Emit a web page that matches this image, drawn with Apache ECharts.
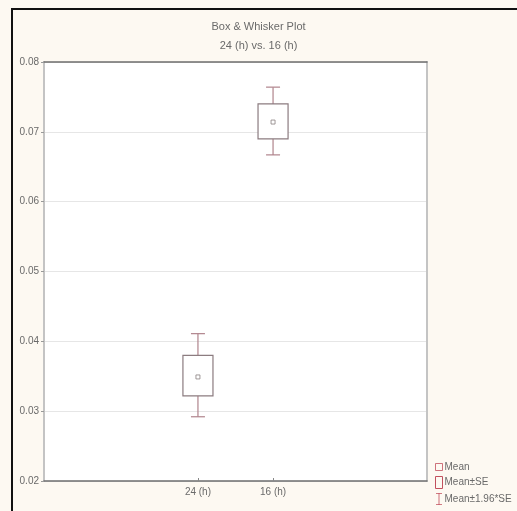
<!DOCTYPE html>
<html>
<head>
<meta charset="utf-8">
<script src="https://cdn.jsdelivr.net/npm/echarts@6/dist/echarts.min.js"></script>
<style>
  html, body { margin: 0; padding: 0; background: #fdf9f2; }
  #chart { width: 517px; height: 511px; }
</style>
</head>
<body>
<div id="chart"></div>
<script>
// Groups and their summary statistics
const categories = ['24 (h)', '16 (h)'];
const means = [0.0349, 0.0714];
const seLow = [0.0322, 0.0690];
const seHigh = [0.0380, 0.0740];
const ciLow = [0.0292, 0.0667];
const ciHigh = [0.0411, 0.0764];
const yTicks = [0.02, 0.03, 0.04, 0.05, 0.06, 0.07, 0.08];

const FONT = "'Liberation Sans Narrow', 'Arial Narrow', 'Liberation Sans', sans-serif";
const TEXT = '#6a6a6a';
const BOX = '#8c7c80';
const WHISK = '#b0848c';
const LEG = '#c2505e';

const chart = echarts.init(document.getElementById('chart'), null, { renderer: 'canvas' });

const positions = categories.map((_, i) => i);

const option = {
  backgroundColor: '#fdf9f2',
  animation: false,
  textStyle: { fontFamily: FONT },
  title: {
    text: 'Box & Whisker Plot',
    subtext: '24 (h) vs. 16 (h)',
    left: 'center',
    top: 16,
    itemGap: 8,
    textStyle: { fontFamily: FONT, fontSize: 11, fontWeight: 'normal', color: TEXT },
    subtextStyle: { fontFamily: FONT, fontSize: 11, color: TEXT }
  },
  graphic: [
    {
      type: 'polyline',
      shape: { points: [[12, 520], [12, 9], [520, 9]] },
      style: { stroke: '#111', lineWidth: 2, fill: null },
      silent: true
    }
  ],
  grid: { left: 44, right: 90, top: 62, bottom: 30, show: true, backgroundColor: '#ffffff', borderWidth: 0 },
  legend: {
    orient: 'vertical',
    left: 430,
    top: 457,
    itemGap: 4,
    itemWidth: 7,
    itemHeight: 12,
    textStyle: { fontFamily: FONT, fontSize: 10, color: TEXT, padding: [0, 0, 0, -3] },
    data: [
      { name: 'Mean', icon: 'path://M2,4 L5,4 L5,7 L2,7 Z', itemStyle: { color: 'transparent', borderColor: LEG, borderWidth: 1 } },
      { name: 'Mean±SE', icon: 'rect', itemStyle: { color: 'transparent', borderColor: LEG, borderWidth: 1 } },
      { name: 'Mean±1.96*SE', icon: 'path://M0,0 L6,0 L6,0.8 L3.4,0.8 L3.4,11.2 L6,11.2 L6,12 L0,12 L0,11.2 L2.6,11.2 L2.6,0.8 L0,0.8 Z', itemStyle: { color: LEG, borderWidth: 0 } }
    ]
  },
  xAxis: [
    {
      type: 'value',
      min: -2.05,
      max: 3.05,
      position: 'bottom',
      splitLine: { show: false },
      axisLine: { show: true, onZero: false, lineStyle: { color: '#6e6e6e', width: 1.5 } },
      axisTick: { show: true, inside: true, length: 3, customValues: positions, lineStyle: { color: '#888' } },
      axisLabel: {
        customValues: positions,
        formatter: v => categories[Math.round(v)],
        color: TEXT, fontSize: 10, fontFamily: FONT, margin: 6
      }
    },
    {
      type: 'value',
      min: -2.05,
      max: 3.05,
      position: 'top',
      splitLine: { show: false },
      axisLine: { show: true, onZero: false, lineStyle: { color: '#6e6e6e', width: 1.5 } },
      axisTick: { show: false },
      axisLabel: { show: false }
    }
  ],
  yAxis: [
    {
      type: 'value',
      min: 0.02,
      max: 0.08,
      interval: 0.01,
      position: 'left',
      axisLine: { show: true, onZero: false, lineStyle: { color: '#c4c4c4', width: 2 } },
      axisTick: { show: true, length: 3, lineStyle: { color: '#999' } },
      splitLine: { show: true, lineStyle: { color: '#e6e6e6', width: 1 } },
      axisLabel: {
        customValues: yTicks,
        formatter: v => v.toFixed(2),
        color: TEXT, fontSize: 10, fontFamily: FONT, margin: 5
      }
    },
    {
      type: 'value',
      min: 0.02,
      max: 0.08,
      interval: 0.01,
      position: 'right',
      axisLine: { show: true, onZero: false, lineStyle: { color: '#c4c4c4', width: 2 } },
      axisTick: { show: false },
      splitLine: { show: false },
      axisLabel: { show: false }
    }
  ],
  series: [
    {
      name: 'Mean±1.96*SE',
      type: 'custom',
      itemStyle: { color: LEG },
      data: positions.map((p, i) => [p, ciLow[i], ciHigh[i], seLow[i], seHigh[i]]),
      renderItem: (params, api) => {
        const x = api.value(0);
        const lo = api.coord([x, api.value(1)]);
        const hi = api.coord([x, api.value(2)]);
        const bLo = api.coord([x, api.value(3)]);
        const bHi = api.coord([x, api.value(4)]);
        const cap = 7;
        const style = { stroke: WHISK, lineWidth: 1.2 };
        return {
          type: 'group',
          children: [
            { type: 'line', shape: { x1: hi[0], y1: hi[1], x2: bHi[0], y2: bHi[1] }, style },
            { type: 'line', shape: { x1: lo[0], y1: lo[1], x2: bLo[0], y2: bLo[1] }, style },
            { type: 'line', shape: { x1: hi[0] - cap, y1: hi[1], x2: hi[0] + cap, y2: hi[1] }, style },
            { type: 'line', shape: { x1: lo[0] - cap, y1: lo[1], x2: lo[0] + cap, y2: lo[1] }, style }
          ]
        };
      }
    },
    {
      name: 'Mean±SE',
      type: 'custom',
      itemStyle: { color: LEG },
      data: positions.map((p, i) => [p, seLow[i], seHigh[i]]),
      renderItem: (params, api) => {
        const x = api.value(0);
        const lo = api.coord([x, api.value(1)]);
        const hi = api.coord([x, api.value(2)]);
        const half = api.size([0.2, 0])[0];
        return {
          type: 'rect',
          shape: { x: lo[0] - half, y: hi[1], width: half * 2, height: lo[1] - hi[1] },
          style: { fill: '#ffffff', stroke: BOX, lineWidth: 1.2 }
        };
      }
    },
    {
      name: 'Mean',
      type: 'scatter',
      symbol: 'rect',
      symbolSize: 4,
      itemStyle: { color: 'transparent', borderColor: '#8a8080', borderWidth: 1 },
      data: positions.map((p, i) => [p, means[i]]),
      z: 5
    }
  ]
};

chart.setOption(option);
</script>
</body>
</html>
